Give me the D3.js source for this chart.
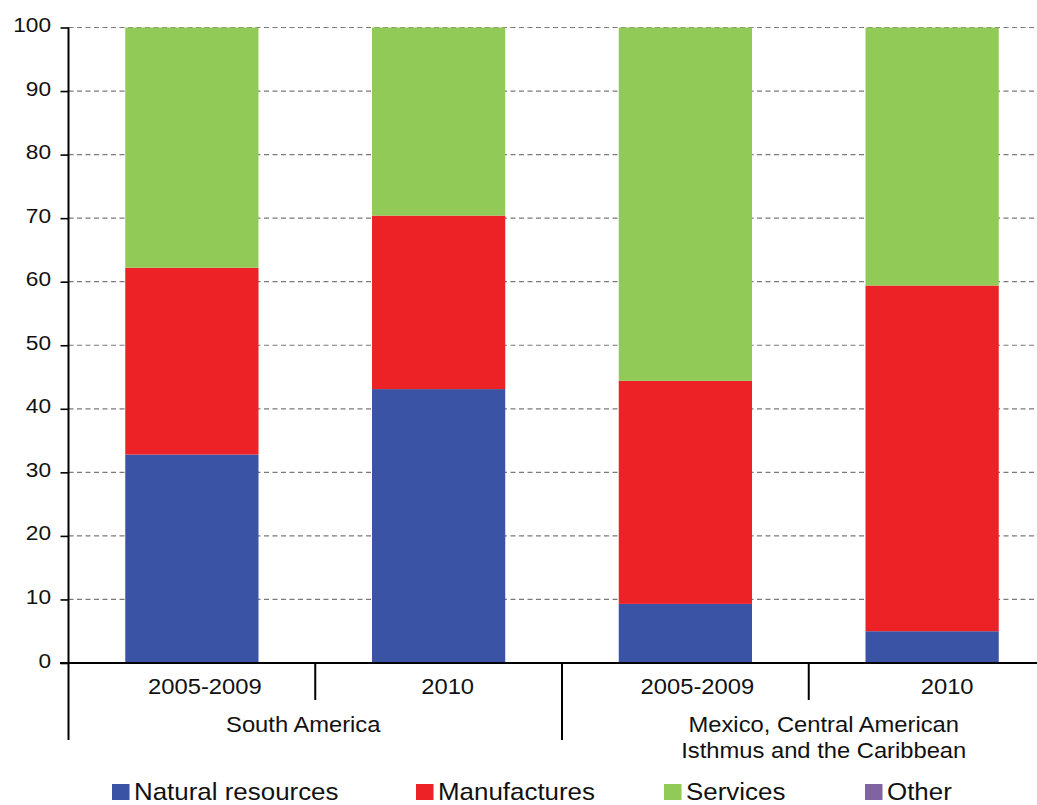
<!DOCTYPE html>
<html>
<head>
<meta charset="utf-8">
<script src="https://cdn.jsdelivr.net/npm/d3@7"></script>
<style>
  html, body { margin: 0; padding: 0; background: #fff; }
  svg { display: block; }
  text { font-family: "Liberation Sans", Arial, sans-serif; fill: #111; }
</style>
</head>
<body>
<svg id="chart" width="1037" height="805"></svg>
<script>
// Share of exports by product type (%), by sub-region and period
const periods = ["2005-2009", "2010", "2005-2009", "2010"];
const regions = ["South America", "Mexico, Central American\nIsthmus and the Caribbean"];
const regionOfBar = [0, 0, 1, 1];
const seriesNames = ["Natural resources", "Manufactures", "Services", "Other"];
const naturalResources = [32.8, 43.1, 9.3, 5.0];
const manufactures     = [29.4, 27.3, 35.1, 54.4];
const services         = [37.8, 29.6, 55.6, 40.6];
const other            = [0, 0, 0, 0];
const yTicks = [0, 10, 20, 30, 40, 50, 60, 70, 80, 90, 100];
const colors = ["#3a53a4", "#ec2227", "#92ca57", "#8064a2"];

const rows = periods.map((p, i) => ({
  key: i,
  "Natural resources": naturalResources[i],
  "Manufactures": manufactures[i],
  "Services": services[i],
  "Other": other[i]
}));

const svg = d3.select("#chart");
const X0 = 68.5, X1 = 1055.5, Y0 = 663, Y1 = 27.5;
const SX = 1.08; // text drawn slightly wide

const x = d3.scaleBand().domain(d3.range(periods.length))
  .range([X0, X1]).paddingInner(0.46).paddingOuter(0.23);
const y = d3.scaleLinear().domain([0, 100]).range([Y0, Y1]);
const color = d3.scaleOrdinal().domain(seriesNames).range(colors);

function stretchedText(sel, tx, ty) {
  return sel.attr("transform", `translate(${tx},${ty}) scale(${SX},1)`);
}

// dashed horizontal gridlines
svg.append("g").selectAll("line").data(yTicks.filter(d => d > 0)).join("line")
  .attr("x1", X0).attr("x2", 1037)
  .attr("y1", d => y(d)).attr("y2", d => y(d))
  .attr("stroke", "#7a7a7a").attr("stroke-width", 1.2)
  .attr("stroke-dasharray", "5,3.5");

// stacked bars
const stacked = d3.stack().keys(seriesNames)(rows);
svg.append("g").selectAll("g").data(stacked).join("g")
  .attr("fill", d => color(d.key))
  .selectAll("rect").data(d => d).join("rect")
  .attr("x", d => x(d.data.key))
  .attr("width", x.bandwidth())
  .attr("y", d => y(d[1]))
  .attr("height", d => y(d[0]) - y(d[1]));

// y axis
const yAxis = d3.axisLeft(y).tickValues(yTicks).tickSize(8).tickPadding(0).tickFormat("");
const ya = svg.append("g").attr("transform", `translate(${X0},0)`).call(yAxis);
ya.select(".domain").remove();
ya.selectAll(".tick line").attr("stroke", "#000").attr("stroke-width", 1.6);
svg.append("line").attr("x1", X0).attr("x2", X0).attr("y1", y(100)).attr("y2", 740)
  .attr("stroke", "#000").attr("stroke-width", 2);
svg.append("g").selectAll("text").data(yTicks).join("text")
  .each(function(d) { stretchedText(d3.select(this), 51, y(d) + 4.5); })
  .attr("text-anchor", "end").attr("font-size", 21)
  .text(d => d);

// x axis baseline
svg.append("line").attr("x1", 60).attr("x2", 1037).attr("y1", Y0).attr("y2", Y0)
  .attr("stroke", "#000").attr("stroke-width", 2);

// separators between bars: short within a region, long between regions
const gap = x.step() * x.paddingInner() / 2;
const seps = d3.range(1, periods.length).map(i => ({
  x: x(i) - gap, long: regionOfBar[i] !== regionOfBar[i - 1]
}));
svg.append("g").selectAll("line").data(seps).join("line")
  .attr("x1", d => d.x).attr("x2", d => d.x)
  .attr("y1", Y0).attr("y2", d => d.long ? 740 : 700)
  .attr("stroke", "#000").attr("stroke-width", 2);

// period labels
const periodDx = [13, 9, 12, 15];
svg.append("g").selectAll("text").data(periods).join("text")
  .each(function(d, i) { stretchedText(d3.select(this), x(i) + x.bandwidth() / 2 + periodDx[i], 694); })
  .attr("text-anchor", "middle").attr("font-size", 22)
  .text(d => d);

// region labels
const regionDx = [-12, 15];
regions.forEach((r, gi) => {
  const idx = d3.range(periods.length).filter(i => regionOfBar[i] === gi);
  const cx = (x(idx[0]) - gap + x(idx[idx.length - 1]) + x.bandwidth() + gap) / 2 + regionDx[gi];
  const t = stretchedText(svg.append("text"), cx, 732)
    .attr("text-anchor", "middle").attr("font-size", 22);
  r.split("\n").forEach((line, li) => {
    t.append("tspan").attr("x", 0).attr("dy", li === 0 ? 0 : 26).text(line);
  });
});

// legend
const legendX = [112, 416, 664, 865];
const lg = svg.append("g").selectAll("g").data(seriesNames).join("g")
  .attr("transform", (d, i) => `translate(${legendX[i]},0)`);
lg.append("rect").attr("x", 0).attr("y", 784).attr("width", 17.5).attr("height", 16)
  .attr("fill", d => color(d));
lg.append("text")
  .each(function() { stretchedText(d3.select(this), 22, 799.5); })
  .attr("font-size", 24)
  .text(d => d);
</script>
</body>
</html>
